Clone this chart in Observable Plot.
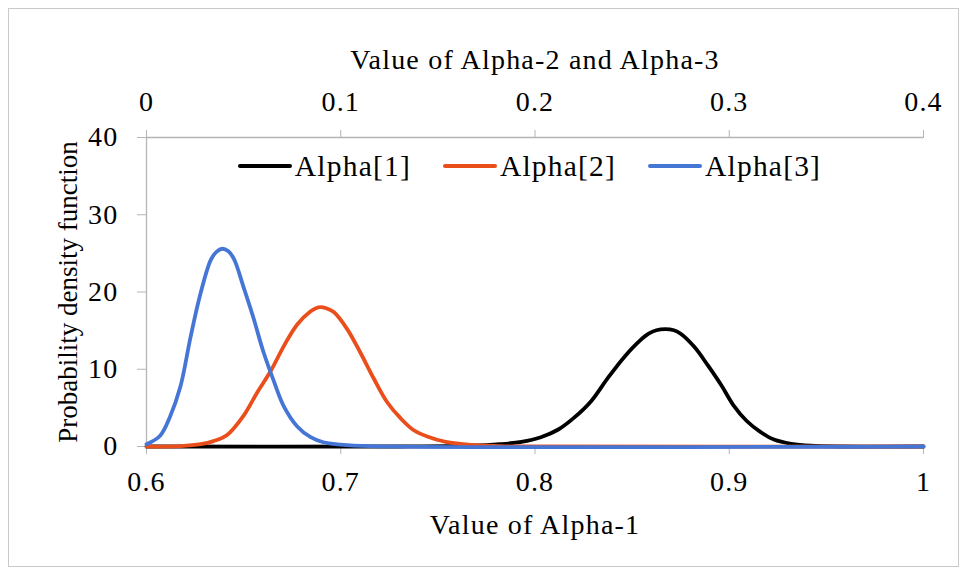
<!DOCTYPE html>
<html>
<head>
<meta charset="utf-8">
<script src="https://cdn.jsdelivr.net/npm/d3@7"></script>
<script src="https://cdn.jsdelivr.net/npm/@observablehq/plot@0.6"></script>
<style>
  body { margin: 0; background: #fff; }
  #chart { position: relative; width: 964px; height: 575px; font-family: "Liberation Serif", "Times New Roman", "DejaVu Serif", serif; }
  #chart svg, #chart svg text { font-family: "Liberation Serif", "Times New Roman", "DejaVu Serif", serif !important; }
  #chart svg text { letter-spacing: 1.2px; }
  #border { position: absolute; left: 8px; top: 8px; width: 949px; height: 557px; border: 1.5px solid #c9c9c9; pointer-events: none; }
  #legend { position: absolute; top: 149px; left: 141px; width: 777px; height: 34px; display: flex; justify-content: center; align-items: center; font-size: 29.5px; letter-spacing: 1.2px; line-height: 34px; color: #000; }
  #legend .item { display: flex; align-items: center; margin: 0 16px; }
  #legend .swatch { width: 54px; height: 4px; margin-right: 3px; border-radius: 2px; }
</style>
</head>
<body>
<div id="chart">
  <div id="border"></div>
  <div id="legend"></div>
</div>
<script>
// Series names and colours
const seriesNames = ["Alpha[1]", "Alpha[2]", "Alpha[3]"];
const seriesColors = ["#000000", "#e94e1b", "#4576d6"];

// Axis ticks and labels
const bottomTicks = [0.6, 0.7, 0.8, 0.9, 1];
const bottomTickLabels = ["0.6", "0.7", "0.8", "0.9", "1"];
const topTickLabels = ["0", "0.1", "0.2", "0.3", "0.4"];
const yTicks = [0, 10, 20, 30, 40];
const yTickLabels = ["0", "10", "20", "30", "40"];
const xTitle = "Value of Alpha-1";
const topTitle = "Value of Alpha-2 and Alpha-3";
const yTitle = "Probability density function";

// The top axis (Alpha-2, Alpha-3) is shifted against the bottom one (Alpha-1)
const topAxisOffset = 0.6;

// Alpha-1 density (bottom axis)
const alpha1X   = [0.6, 0.73, 0.767, 0.782, 0.793, 0.803, 0.812, 0.82, 0.829, 0.837, 0.846, 0.854, 0.8585, 0.8625, 0.867, 0.8715, 0.875, 0.882, 0.889, 0.896, 0.902, 0.909, 0.916, 0.923, 0.932, 0.942, 0.957, 1.0];
const alpha1Pdf = [0,   0,    0.1,   0.3,   0.6,   1.2,   2.2,   3.7,  5.9,   8.7,   11.6,  13.7,  14.6,   15.05,  15.2,  15.05,  14.6,  12.9,  10.5,  7.9,   5.4,   3.3,   1.9,   0.9,   0.35,  0.1,   0,     0];

// Alpha-2 density (top axis)
const alpha2X   = [0, 0.0175, 0.028, 0.0345, 0.0415, 0.05, 0.057, 0.064, 0.0707, 0.0776, 0.0845, 0.0872, 0.0896, 0.0925, 0.0964, 0.1033, 0.11, 0.117, 0.124, 0.131, 0.1376, 0.1445, 0.154, 0.167, 0.182, 0.193, 0.4];
const alpha2Pdf = [0, 0.05,   0.3,   0.7,    1.5,    4.0,  7.0,   9.8,   13.0,   15.8,   17.5,   17.9,   18.05,  17.9,   17.4,   15.2,   12.2, 8.8,   5.7,   3.6,   2.1,    1.3,    0.6,   0.2,   0.05,  0,     0];

// Alpha-3 density (top axis)
const alpha3X   = [0,   0.007, 0.012, 0.0175, 0.0227, 0.0278, 0.033, 0.036, 0.039, 0.042, 0.045, 0.05, 0.055, 0.06, 0.0655, 0.0707, 0.0776, 0.0845, 0.091, 0.1,  0.115, 0.4];
const alpha3Pdf = [0.3, 1.4,   3.8,   7.8,    14.2,   19.8,   24.1,  25.2,  25.6,  25.3,  24.3,  20.6, 16.7,  12.4, 8.5,    5.2,    2.6,    1.2,    0.55,  0.25, 0.05,  0];

const rows = [
  ...alpha1X.map((x, i) => ({series: seriesNames[0], x, pdf: alpha1Pdf[i]})),
  ...alpha2X.map((v, i) => ({series: seriesNames[1], x: v + topAxisOffset, pdf: alpha2Pdf[i]})),
  ...alpha3X.map((v, i) => ({series: seriesNames[2], x: v + topAxisOffset, pdf: alpha3Pdf[i]}))
];

const axisGray = "#b5b5b5";
const serif = "'Liberation Serif', 'Times New Roman', 'DejaVu Serif', serif";

const chart = Plot.plot({
  width: 964,
  height: 575,
  marginLeft: 146,
  marginRight: 41,
  marginTop: 137,
  marginBottom: 129,
  style: {fontFamily: serif, fontSize: "28px", color: "#000", background: "transparent", overflow: "visible"},
  x: {domain: [0.6, 1]},
  y: {domain: [0, 40]},
  color: {domain: seriesNames, range: seriesColors},
  marks: [
    Plot.ruleY([0, 40], {stroke: axisGray, strokeWidth: 1.3}),
    Plot.ruleX([0.6], {stroke: axisGray, strokeWidth: 1.3}),
    Plot.axisX({anchor: "bottom", ticks: bottomTicks, tickFormat: d => bottomTickLabels[bottomTicks.indexOf(d)], tickSize: 8, tickPadding: 17, stroke: axisGray, fontSize: 28, label: null}),
    Plot.axisX({anchor: "top", ticks: bottomTicks, tickFormat: d => topTickLabels[bottomTicks.indexOf(d)], tickSize: 8, tickPadding: 19, stroke: axisGray, fontSize: 28, label: null}),
    Plot.axisY({ticks: yTicks, tickFormat: d => yTickLabels[yTicks.indexOf(d)], tickSize: 9, tickPadding: 19, stroke: axisGray, fontSize: 28, label: null}),
    Plot.line(rows, {x: "x", y: "pdf", z: "series", stroke: "series", strokeWidth: 3.8, curve: "catmull-rom"}),
    Plot.text([xTitle], {text: d => d, frameAnchor: "bottom", lineAnchor: "middle", dy: 79, fontSize: 28}),
    Plot.text([topTitle], {text: d => d, frameAnchor: "top", lineAnchor: "middle", dy: -77, fontSize: 28}),
    Plot.text([yTitle], {text: d => d, frameAnchor: "left", textAnchor: "middle", lineAnchor: "middle", dx: -78, rotate: -90, fontSize: 27})
  ]
});

const host = document.getElementById("chart");
host.insertBefore(chart, host.firstChild);

// The rotated axis title keeps normal spacing
d3.select(chart).selectAll("text").filter(function () { return this.textContent === yTitle; }).style("letter-spacing", "0px");

// Legend: line swatch + series name
const legend = d3.select("#legend");
seriesNames.forEach((name, i) => {
  const item = legend.append("div").attr("class", "item");
  item.append("div").attr("class", "swatch").style("background", seriesColors[i]);
  item.append("span").text(name);
});
</script>
</body>
</html>
